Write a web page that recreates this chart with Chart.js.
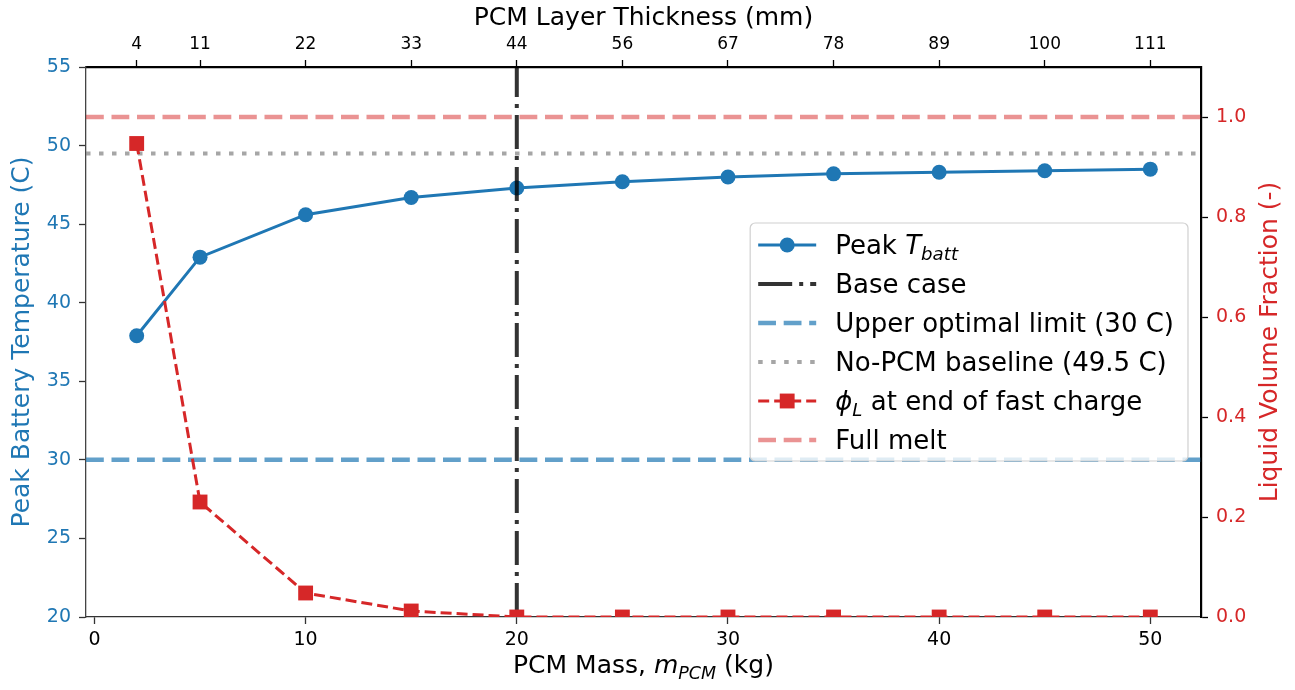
<!DOCTYPE html>
<html>
<head>
<meta charset="utf-8">
<script src="https://cdn.jsdelivr.net/npm/chart.js@4.4.0/dist/chart.umd.min.js"></script>
<style>
  html, body { margin: 0; padding: 0; background: #fff; }
  canvas { display: block; }
</style>
</head>
<body>
<canvas id="pcmChart" width="1295" height="690"></canvas>
<script>
// data
const massKg = [2, 5, 10, 15, 20, 25, 30, 35, 40, 45, 50];
const thicknessMm = [4, 11, 22, 33, 44, 56, 67, 78, 89, 100, 111];
const peakTemp = [37.9, 42.9, 45.6, 46.7, 47.3, 47.7, 48.0, 48.2, 48.3, 48.4, 48.5];
const liquidFraction = [0.947, 0.23, 0.048, 0.012, 0, 0, 0, 0, 0, 0, 0];

const baseCaseMass = 20;
const upperLimitTemp = 30;
const noPcmTemp = 49.5;
const fullMeltFraction = 1.0;

// axis limits and ticks
const massRange = [-0.4, 52.4];
const tempRange = [20, 55];
const fractionRange = [0, 1.1];
const massTicks = [0, 10, 20, 30, 40, 50];
const tempTicks = [20, 25, 30, 35, 40, 45, 50, 55];
const fractionTicks = [0, 0.2, 0.4, 0.6, 0.8, 1.0];

const BLUE = "#1f77b4";
const RED = "#d62728";
const FONT = "'DejaVu Sans', 'Liberation Sans', sans-serif";

const pairs = (xs, ys) => xs.map((x, i) => ({ x: x, y: ys[i] }));
const hline = (y) => [{ x: massRange[0], y: y }, { x: massRange[1], y: y }];

const styles = {
  peak: { color: BLUE, width: 3, dash: [], marker: "circle", size: 7.5 },
  base: { color: "rgba(0,0,0,0.8)", width: 4, dash: [34, 7, 4, 7] },
  upper: { color: "rgba(31,119,180,0.7)", width: 4.5, dash: [17.8, 7.7] },
  noPcm: { color: "rgba(128,128,128,0.7)", width: 4, dash: [4.5, 8.5] },
  phi: { color: RED, width: 3, dash: [11, 5], marker: "rect", size: 10.5 },
  melt: { color: "rgba(214,39,40,0.5)", width: 4.5, dash: [17.8, 7.7] },
};

function lineSet(data, st, yAxis) {
  return {
    data: data,
    xAxisID: "x",
    yAxisID: yAxis,
    borderColor: st.color,
    borderWidth: st.width,
    borderDash: st.dash,
    backgroundColor: st.color,
    pointRadius: st.marker ? st.size : 0,
    pointStyle: st.marker || "circle",
    pointBackgroundColor: st.color,
    pointBorderWidth: 0,
    tension: 0,
    fill: false,
  };
}

const datasets = [
  Object.assign(lineSet(pairs(massKg, liquidFraction), styles.phi, "y2"), { clip: 0 }),
  lineSet(hline(fullMeltFraction), styles.melt, "y2"),
  lineSet(hline(noPcmTemp), styles.noPcm, "y"),
  lineSet(hline(upperLimitTemp), styles.upper, "y"),
  lineSet([{ x: baseCaseMass, y: tempRange[0] }, { x: baseCaseMass, y: tempRange[1] }], styles.base, "y"),
  lineSet(pairs(massKg, peakTemp), styles.peak, "y"),
];

const legendItems = [
  { st: styles.peak, parts: [{ t: "Peak " }, { t: "T", i: true }, { t: "batt", i: true, sub: true }] },
  { st: styles.base, parts: [{ t: "Base case" }] },
  { st: styles.upper, parts: [{ t: "Upper optimal limit (30 C)" }] },
  { st: styles.noPcm, parts: [{ t: "No-PCM baseline (49.5 C)" }] },
  { st: styles.phi, parts: [{ t: "\u03D5", i: true }, { t: "L", i: true, sub: true }, { t: " at end of fast charge" }] },
  { st: styles.melt, parts: [{ t: "Full melt" }] },
];

function partFont(p, size) {
  const s = p.sub ? size * 0.7 : size;
  return (p.i ? "italic " : "") + s + "px " + FONT;
}

function drawParts(ctx, parts, x, y, size, align) {
  const widths = parts.map((p) => {
    ctx.font = partFont(p, size);
    return ctx.measureText(p.t).width;
  });
  const total = widths.reduce((a, b) => a + b, 0);
  let cx = align === "center" ? x - total / 2 : x;
  ctx.textAlign = "left";
  ctx.textBaseline = "alphabetic";
  parts.forEach((p, k) => {
    ctx.font = partFont(p, size);
    ctx.fillText(p.t, cx, p.sub ? y + size * 0.22 : y);
    cx += widths[k];
  });
  return total;
}

const decorPlugin = {
  id: "decor",
  afterDraw(chart) {
    const ctx = chart.ctx;
    const area = chart.chartArea;
    const midX = (area.left + area.right) / 2;
    const midY = (area.top + area.bottom) / 2;

    ctx.save();
    ctx.fillStyle = "#000";
    drawParts(ctx, [{ t: "PCM Layer Thickness (mm)" }], midX, 25, 25, "center");
    drawParts(ctx, [{ t: "PCM Mass, " }, { t: "m", i: true }, { t: "PCM", i: true, sub: true }, { t: " (kg)" }], midX, 673, 25, "center");

    ctx.font = "25px " + FONT;
    ctx.textAlign = "center";
    ctx.textBaseline = "middle";
    ctx.translate(22, midY);
    ctx.rotate(-Math.PI / 2);
    ctx.fillStyle = BLUE;
    ctx.fillText("Peak Battery Temperature (C)", 0, 0);
    ctx.restore();

    ctx.save();
    ctx.font = "25px " + FONT;
    ctx.textAlign = "center";
    ctx.textBaseline = "middle";
    ctx.translate(1270, midY);
    ctx.rotate(-Math.PI / 2);
    ctx.fillStyle = RED;
    ctx.fillText("Liquid Volume Fraction (-)", 0, 0);
    ctx.restore();

    // legend box, centre right
    const size = 26;
    ctx.save();
    let maxW = 0;
    legendItems.forEach((it) => {
      let w = 0;
      it.parts.forEach((p) => {
        ctx.font = partFont(p, size);
        w += ctx.measureText(p.t).width;
      });
      maxW = Math.max(maxW, w);
    });
    const rowH = 39;
    const boxW = 8 + 58 + 19 + maxW + 14;
    const boxH = rowH * legendItems.length + 4;
    const bx = area.right - 13 - boxW;
    const by = midY - boxH / 2;
    ctx.beginPath();
    ctx.roundRect(bx, by, boxW, boxH, 5);
    ctx.fillStyle = "rgba(255,255,255,0.8)";
    ctx.fill();
    ctx.strokeStyle = "#d0d0d0";
    ctx.lineWidth = 1.2;
    ctx.stroke();

    legendItems.forEach((it, k) => {
      const ry = by + 22 + k * rowH;
      const hx0 = bx + 8;
      const hx1 = hx0 + 58;
      const st = it.st;
      ctx.beginPath();
      ctx.setLineDash(st.dash);
      ctx.strokeStyle = st.color;
      ctx.lineWidth = st.width;
      ctx.moveTo(hx0, ry);
      ctx.lineTo(hx1, ry);
      ctx.stroke();
      ctx.setLineDash([]);
      if (st.marker === "circle") {
        ctx.beginPath();
        ctx.arc((hx0 + hx1) / 2, ry, st.size, 0, Math.PI * 2);
        ctx.fillStyle = st.color;
        ctx.fill();
      } else if (st.marker === "rect") {
        const h = st.size / Math.SQRT2;
        ctx.fillStyle = st.color;
        ctx.fillRect((hx0 + hx1) / 2 - h, ry - h, 2 * h, 2 * h);
      }
      ctx.fillStyle = "#000";
      drawParts(ctx, it.parts, hx1 + 19, ry + 9, size, "left");
    });
    ctx.restore();
  },
};

const tickFont = { family: FONT, size: 19 };

new Chart(document.getElementById("pcmChart"), {
  type: "line",
  data: { datasets: datasets },
  plugins: [decorPlugin],
  options: {
    responsive: false,
    animation: false,
    devicePixelRatio: 1,
    layout: { padding: 0 },
    plugins: {
      legend: { display: false },
      tooltip: { enabled: false },
    },
    scales: {
      x: {
        type: "linear",
        position: "bottom",
        min: massRange[0],
        max: massRange[1],
        afterBuildTicks: (s) => { s.ticks = massTicks.map((v) => ({ value: v })); },
        afterFit: (s) => { s.height = 73; },
        ticks: { font: tickFont, color: "#000", padding: 5, maxRotation: 0, autoSkip: false },
        grid: { drawOnChartArea: false, drawTicks: true, tickLength: 7, tickWidth: 1.3, tickColor: "#333" },
        border: { color: "#333", width: 1.3 },
      },
      xTop: {
        type: "linear",
        position: "top",
        min: massRange[0],
        max: massRange[1],
        afterBuildTicks: (s) => { s.ticks = massKg.map((v) => ({ value: v })); },
        afterFit: (s) => { s.height = 67; },
        ticks: {
          font: { family: FONT, size: 17 },
          color: "#000",
          padding: 5,
          maxRotation: 0,
          autoSkip: false,
          callback: (v) => thicknessMm[massKg.indexOf(v)],
        },
        grid: { drawOnChartArea: false, drawTicks: true, tickLength: 7, tickWidth: 1.3, tickColor: "#000" },
        border: { color: "#000", width: 2.2 },
      },
      y: {
        type: "linear",
        position: "left",
        min: tempRange[0],
        max: tempRange[1],
        afterBuildTicks: (s) => { s.ticks = tempTicks.map((v) => ({ value: v })); },
        afterFit: (s) => { s.width = 86; },
        ticks: { font: tickFont, color: BLUE, padding: 8 },
        grid: { drawOnChartArea: false, drawTicks: true, tickLength: 7, tickWidth: 1.3, tickColor: "#333" },
        border: { color: "#444", width: 1.3 },
      },
      y2: {
        type: "linear",
        position: "right",
        min: fractionRange[0],
        max: fractionRange[1],
        afterBuildTicks: (s) => { s.ticks = fractionTicks.map((v) => ({ value: v })); },
        afterFit: (s) => { s.width = 94; },
        ticks: { font: tickFont, color: RED, padding: 8, callback: (v) => v.toFixed(1) },
        grid: { drawOnChartArea: false, drawTicks: true, tickLength: 7, tickWidth: 1.3, tickColor: "#000" },
        border: { color: "#000", width: 2.2 },
      },
    },
  },
});
</script>
</body>
</html>
